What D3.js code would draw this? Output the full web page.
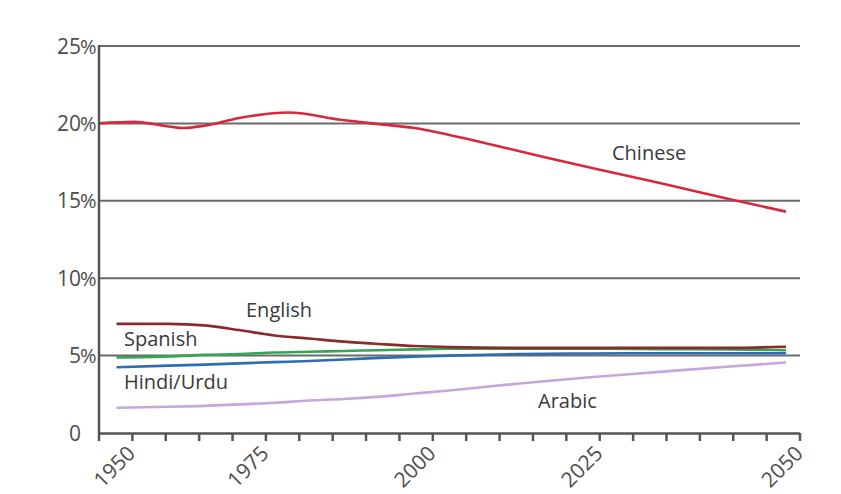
<!DOCTYPE html>
<html>
<head>
<meta charset="utf-8">
<script src="https://cdn.jsdelivr.net/npm/d3@7"></script>
<style>
  body { margin: 0; background: #fff; }
  svg { display: block; }
</style>
</head>
<body>
<svg id="chart" width="841" height="494"></svg>
<script>
// Share of world population by language (%)
const chineseYears = [1950, 1955, 1960, 1962, 1965, 1970, 1977, 1985, 1990, 1995, 2000, 2010, 2020, 2030, 2040, 2048];
const chineseValues = [20.0, 20.1, 19.8, 19.7, 19.85, 20.35, 20.7, 20.2, 19.95, 19.7, 19.25, 18.2, 17.15, 16.15, 15.1, 14.3];

const years = [1952.5, 1960, 1965, 1970, 1975, 1980, 1985, 1990, 1995, 2000, 2010, 2020, 2030, 2040, 2048];
const englishValues = [7.05, 7.05, 6.95, 6.65, 6.3, 6.1, 5.9, 5.75, 5.62, 5.55, 5.5, 5.5, 5.5, 5.5, 5.57];
const spanishValues = [4.88, 4.95, 5.05, 5.1, 5.2, 5.25, 5.3, 5.35, 5.4, 5.45, 5.45, 5.45, 5.42, 5.4, 5.35];
const hindiValues   = [4.25, 4.35, 4.42, 4.5, 4.58, 4.65, 4.75, 4.85, 4.93, 5.0, 5.1, 5.14, 5.15, 5.15, 5.15];
const arabicValues  = [1.63, 1.7, 1.75, 1.85, 1.95, 2.1, 2.2, 2.35, 2.55, 2.75, 3.2, 3.6, 3.95, 4.3, 4.55];

const yTicks = [0, 5, 10, 15, 20, 25];
const yTickNums = ['0', '5', '10', '15', '20', '25'];
const yTickUnits = ['', '%', '%', '%', '%', '%'];
// the source axis has 21 equal tick steps; labels sit under ticks 1, 5, 10, 15, 21
const tickCount = 21;
const xLabels = ['1950', '1975', '2000', '2025', '2050'];
const xLabelTicks = [1, 5, 10, 15, 21];

const series = [
  {name: 'Chinese', xs: chineseYears, vals: chineseValues, color: '#d8283c', lx: 612, ly: 160},
  {name: 'English', xs: years, vals: englishValues, color: '#8a2a2c', lx: 246, ly: 317},
  {name: 'Spanish', xs: years, vals: spanishValues, color: '#33a655', lx: 124, ly: 346},
  {name: 'Hindi/Urdu', xs: years, vals: hindiValues, color: '#2c6db3', lx: 124, ly: 389},
  {name: 'Arabic', xs: years, vals: arabicValues, color: '#c6a6dc', lx: 538, ly: 408}
];

const svg = d3.select('#chart');
const font = '"Open Sans", sans-serif';

const x = d3.scaleLinear().domain([1950, 2050]).range([99, 800]);
const y = d3.scaleLinear().domain([0, 25]).range([433, 46]);
const tickX = d3.scaleLinear().domain([0, tickCount]).range([98.5, 799.5]);

// gridlines
svg.append('g')
  .selectAll('line')
  .data(yTicks.filter(d => d > 0))
  .enter()
  .append('line')
  .attr('x1', x(1950)).attr('x2', x(2050))
  .attr('y1', d => y(d)).attr('y2', d => y(d))
  .attr('stroke', '#6a6a6a')
  .attr('stroke-width', 2);

// y axis labels (number right aligned, % hangs over the axis)
const yl = svg.append('g')
  .selectAll('text')
  .data(yTicks)
  .enter()
  .append('text')
  .attr('x', 81)
  .attr('y', d => y(d) + 7.5)
  .attr('font-family', font)
  .attr('font-size', 21)
  .attr('fill', '#4d4d4d');
yl.append('tspan').attr('text-anchor', 'end').text((d, i) => yTickNums[i]);
svg.append('g')
  .selectAll('text')
  .data(yTicks.filter((d, i) => yTickUnits[i]))
  .enter()
  .append('text')
  .attr('x', 80)
  .attr('y', d => y(d) + 7.5)
  .attr('font-family', font)
  .attr('font-size', 20)
  .attr('fill', '#4d4d4d')
  .text('%');

// lines
const line = d3.line()
  .curve(d3.curveMonotoneX)
  .x(d => x(d[0]))
  .y(d => y(d[1]));

svg.append('g')
  .selectAll('path')
  .data(series.slice().reverse())
  .enter()
  .append('path')
  .attr('d', s => line(s.xs.map((yr, i) => [yr, s.vals[i]])))
  .attr('fill', 'none')
  .attr('stroke', s => s.color)
  .attr('stroke-width', 2.6);

// axes lines
svg.append('line')
  .attr('x1', x(1950)).attr('x2', x(1950))
  .attr('y1', y(25) - 1).attr('y2', y(0))
  .attr('stroke', '#555').attr('stroke-width', 2.5);

const xAxis = d3.axisBottom(tickX)
  .tickValues(d3.range(0, tickCount + 1))
  .tickSize(8)
  .tickSizeOuter(0)
  .tickFormat('');
const gx = svg.append('g')
  .attr('transform', `translate(0,${y(0)})`)
  .call(xAxis);
gx.select('.domain').attr('stroke', '#555').attr('stroke-width', 2.5);
gx.selectAll('.tick line').attr('stroke', '#555').attr('stroke-width', 2.5);

// x labels rotated
svg.append('g')
  .selectAll('text')
  .data(xLabels)
  .enter()
  .append('text')
  .attr('transform', (d, i) => `translate(${tickX(xLabelTicks[i]) - 6},${y(0) + 11}) rotate(-45)`)
  .attr('text-anchor', 'end')
  .attr('dy', '0.72em')
  .attr('font-family', font)
  .attr('font-size', 21)
  .attr('fill', '#4d4d4d')
  .text(d => d);

// series labels
svg.append('g')
  .selectAll('text')
  .data(series)
  .enter()
  .append('text')
  .attr('x', s => s.lx)
  .attr('y', s => s.ly)
  .attr('font-family', font)
  .attr('font-size', 20)
  .attr('fill', '#3a3a3a')
  .text(s => s.name);
</script>
</body>
</html>
